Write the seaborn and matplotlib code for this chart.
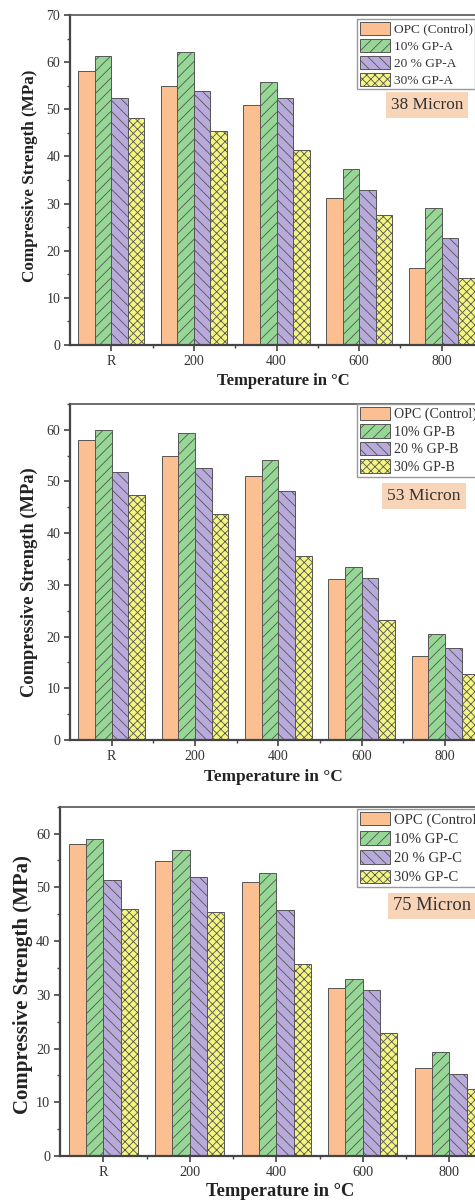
import matplotlib
matplotlib.use("Agg")
import matplotlib.pyplot as plt
import matplotlib.patches as mpatches
from matplotlib.ticker import MultipleLocator, FixedLocator
import numpy as np
import pandas as pd
import seaborn as sns

sns.set_style("ticks")
plt.rcParams['font.family'] = ['Liberation Serif', 'DejaVu Serif']
plt.rcParams['hatch.linewidth'] = 0.6

temps = ['R', '200', '400', '600', '800']
opc = [58.1, 54.9, 51.0, 31.2, 16.3]
a10 = [61.4, 62.2, 55.7, 37.3, 29.1]
a20 = [52.5, 53.9, 52.5, 32.9, 22.6]
a30 = [48.2, 45.5, 41.4, 27.5, 14.2]
b10 = [60.0, 59.4, 54.1, 33.4, 20.4]
b20 = [51.9, 52.6, 48.2, 31.4, 17.8]
b30 = [47.3, 43.7, 35.6, 23.2, 12.7]
c10 = [59.0, 57.0, 52.7, 32.9, 19.3]
c20 = [51.3, 51.9, 45.8, 30.9, 15.3]
c30 = [46.0, 45.4, 35.7, 22.8, 12.5]

panels = [
    dict(suffix='A', micron='38 Micron', vals=[opc, a10, a20, a30],
         ctrl='OPC (Control)', ymax=70,
         pos=[0.1474, 0.7127, 0.8695, 0.2748],
         ylab=(-0.0775, 0.512, 12.3), xlab=(0.517, -0.085, 12.0), tick=10,
         leg=(357, 19, 9.6, 0.22), mic=(427, 105, 12.4)),
    dict(suffix='B', micron='53 Micron', vals=[opc, b10, b20, b30],
         ctrl='OPC (Control)', ymax=65,
         pos=[0.1474, 0.3839, 0.877, 0.2798],
         ylab=(-0.0768, 0.47, 13.3), xlab=(0.487, -0.086, 12.4), tick=10,
         leg=(357, 404, 10.1, 0.22), mic=(424, 496, 12.6)),
    dict(suffix='C', micron='75 Micron', vals=[opc, c10, c20, c30],
         ctrl='OPC (Control)', ymax=65,
         pos=[0.1263, 0.0375, 0.9107, 0.2908],
         ylab=(-0.0624, 0.49, 15.0), xlab=(0.509, -0.077, 13.3), tick=10.3,
         leg=(357, 809, 10.6, 0.3), mic=(432, 906, 13.3)),
]

colors = ['#fbbf92', '#96d796', '#b9aadc', '#f5f582']
hatches = ['', '///', '\\\\\\', 'xxxx']
edge = '#555555'

W, H = 475, 1201
fig = plt.figure(figsize=(W / 100, H / 100), dpi=100)

for p in panels:
    labels = [p['ctrl'], '10% GP-' + p['suffix'], '20 % GP-' + p['suffix'],
              '30% GP-' + p['suffix']]
    rows = []
    for lab, v in zip(labels, p['vals']):
        for t, val in zip(temps, v):
            rows.append(dict(Temperature=t, Strength=val, Mix=lab))
    df = pd.DataFrame(rows)
    ax = fig.add_axes(p['pos'])
    sns.barplot(data=df, x='Temperature', y='Strength', hue='Mix',
                order=temps, hue_order=labels, palette=colors,
                saturation=1, width=0.8, edgecolor=edge, linewidth=0.7,
                legend=False, ax=ax, errorbar=None)
    for cont, h in zip(ax.containers, hatches):
        for bar in cont:
            bar.set_hatch(h)
            bar.set_edgecolor(edge)
    ax.set_xlim(-0.5, 4.5)
    ax.set_ylim(0, p['ymax'])
    ax.yaxis.set_major_locator(MultipleLocator(10))
    ax.yaxis.set_minor_locator(MultipleLocator(5))
    ax.xaxis.set_minor_locator(FixedLocator([0.5, 1.5, 2.5, 3.5]))
    for s in ['left', 'bottom']:
        ax.spines[s].set_linewidth(1.6)
        ax.spines[s].set_color('#444444')
    ax.spines['top'].set_linewidth(1.2)
    ax.spines['top'].set_color('#555555')
    ax.spines['top'].set_visible(True)
    ax.spines['right'].set_visible(False)
    ax.tick_params(axis='both', which='major', direction='out', length=4.5,
                   width=1.2, color='#444444', labelcolor='#333333',
                   labelsize=p['tick'], pad=2.5)
    ax.tick_params(axis='both', which='minor', direction='out', length=2.5,
                   width=1.0, color='#444444')
    ax.set_ylabel('Compressive Strength (MPa)', fontsize=p['ylab'][2],
                  fontweight='bold', color='#222222')
    ax.yaxis.set_label_coords(p['ylab'][0], p['ylab'][1])
    ax.set_xlabel('Temperature in °C', fontsize=p['xlab'][2],
                  fontweight='bold', color='#222222')
    ax.xaxis.set_label_coords(p['xlab'][0], p['xlab'][1])

    fs = p['leg'][2]
    fpx = fs * 100 / 72
    handles = [mpatches.Patch(facecolor=c, edgecolor=edge, hatch=h,
                              linewidth=0.7, label=l)
               for c, h, l in zip(colors, hatches, labels)]
    leg = ax.legend(handles=handles, loc='upper left',
                    bbox_to_anchor=(p['leg'][0] / W, 1 - p['leg'][1] / H),
                    bbox_transform=fig.transFigure, fontsize=fs,
                    frameon=True, fancybox=False, edgecolor='#999999',
                    framealpha=1, borderpad=0.2, borderaxespad=0,
                    handlelength=30 / fpx, handleheight=15 / fpx,
                    labelspacing=p['leg'][3], handletextpad=0.3)
    leg.get_frame().set_linewidth(1.0)
    for t in leg.get_texts():
        t.set_color('#333333')

    fig.text(p['mic'][0] / W, 1 - p['mic'][1] / H, p['micron'],
             fontsize=p['mic'][2], ha='center', va='center', color='#333333',
             bbox=dict(facecolor='#f8d4b8', edgecolor='none', pad=3.5))

fig.savefig('out.png', dpi=100)
